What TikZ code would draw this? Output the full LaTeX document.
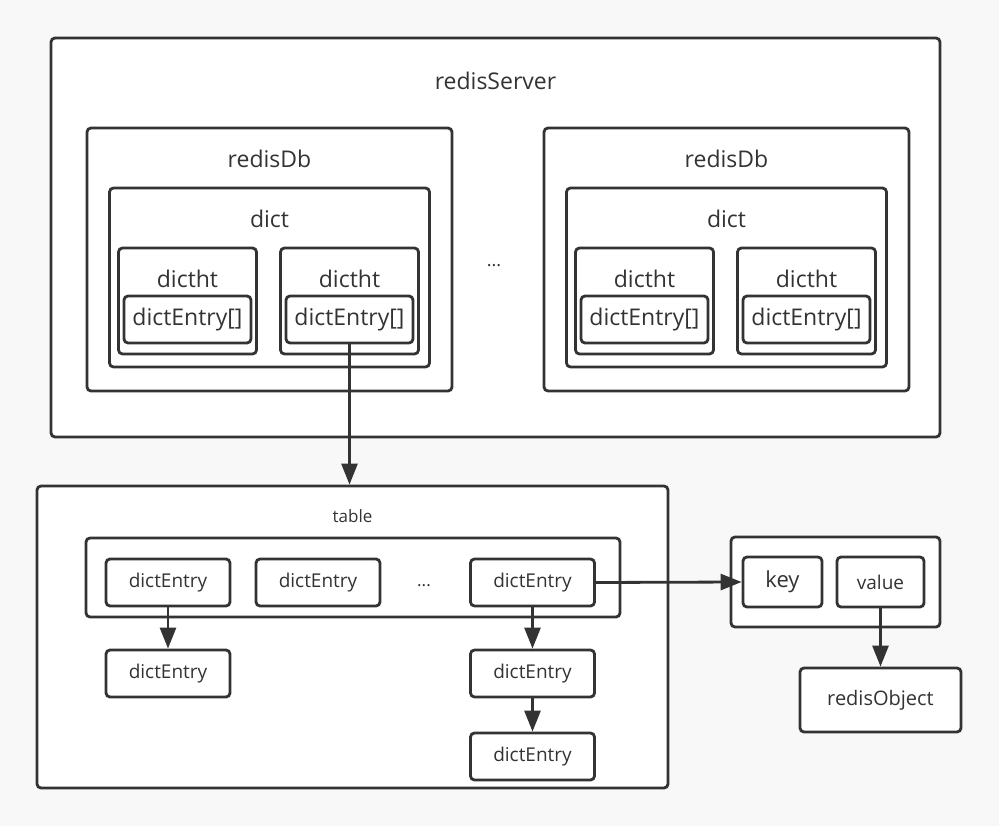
\documentclass[tikz,border=0pt]{standalone}
\usepackage{fontspec}
\setmainfont{Open Sans}
\usetikzlibrary{positioning,calc,arrows.meta}
\definecolor{ink}{RGB}{51,51,51}
\definecolor{canvas}{RGB}{248,248,248}
\tikzset{
    box/.style={draw=ink, text=ink, rectangle, rounded corners=4pt, line width=2.8pt, fill=white, inner sep=0pt},
    title/.style={text=ink, inner sep=0pt, anchor=center},
    link/.style={draw=ink, line width=2.8pt, -{Triangle[length=21pt,width=16pt]}}
}
\begin{document}
\begin{tikzpicture}[x=1pt, y=-1pt, font=\fontsize{23}{26}\selectfont]
    \fill[canvas] (0,0) rectangle (999,826);
    \useasboundingbox (0,0) rectangle (999,826);

    % Server with its databases
    \node [box, minimum width=889pt, minimum height=399pt] (server) at (495.5,237.5) {};
    \node [title] at ([yshift=-44pt]server.north) {redisServer};

    \foreach \i/\x in {0/269.5, 1/726.5} {
        \node [box, minimum width=365pt, minimum height=263pt] (db\i) at (\x,259.5) {};
        \node [title] at ([yshift=-32pt]db\i.north) {redisDb};
        \node [box, minimum width=320pt, minimum height=179pt] (dict\i) at (\x,277.5) {};
        \node [title] at ([yshift=-32pt]dict\i.north) {dict};
        % Two hash tables per dict
        \foreach \j/\dx in {a/-82, b/80} {
            \node [box, minimum width=138pt, minimum height=106pt] (ht\i\j) at (\x+\dx,301) {};
            \node [title] at ([yshift=-32pt]ht\i\j.north) {dictht};
            \node [box, minimum width=127pt, minimum height=47pt] (arr\i\j) at (\x+\dx,319.5) {dictEntry[]};
        }
    }
    \node [title, font=\fontsize{18}{20}\selectfont] (dots) at (494,266) {...};

    % Hash table buckets
    \node [box, minimum width=631pt, minimum height=302pt] (table) at (352.5,637) {};
    \node [title, font=\fontsize{17}{20}\selectfont] at ([yshift=-32pt]table.north) {table};
    \node [box, minimum width=534pt, minimum height=79pt] (bucket) at (353,577.5) {};

    \tikzset{entry/.style={box, minimum width=124pt, minimum height=47pt, font=\fontsize{19}{22}\selectfont}}
    \node [entry] (de1) at (168,582.5) {dictEntry};
    \node [entry] (de2) at (318,582.5) {dictEntry};
    \node [title, font=\fontsize{17}{20}\selectfont] (bdots) at (424,586) {...};
    \node [entry] (de3) at (532.5,582.5) {dictEntry};
    \node [entry] (de1n) at (168,673.5) {dictEntry};
    \node [entry] (de3n) at (532.5,673.5) {dictEntry};
    \node [entry] (de3nn) at (532.5,756.5) {dictEntry};

    % Key and value of one entry
    \node [box, minimum width=209pt, minimum height=90pt] (kv) at (835.5,582) {};
    \node [box, minimum width=79pt, minimum height=50pt, font=\fontsize{22}{24}\selectfont] (key) at (782.5,582) {key};
    \node [box, minimum width=87pt, minimum height=50pt, font=\fontsize{19}{22}\selectfont] (value) at (880.5,582) {value};
    \node [box, minimum width=161pt, minimum height=64pt, font=\fontsize{20}{22}\selectfont] (obj) at (880.5,700) {redisObject};

    % Connectors
    \draw [link] (arr0b.south) -- (arr0b.south |- table.north);
    \draw [link] (de1.south) -- (de1n.north);
    \draw [link] (de3.south) -- (de3n.north);
    \draw [link] (de3n.south) -- (de3nn.north);
    \draw [link] (de3.east) -- (key.west);
    \draw [link] (value.south) -- (obj.north);
\end{tikzpicture}
\end{document}
